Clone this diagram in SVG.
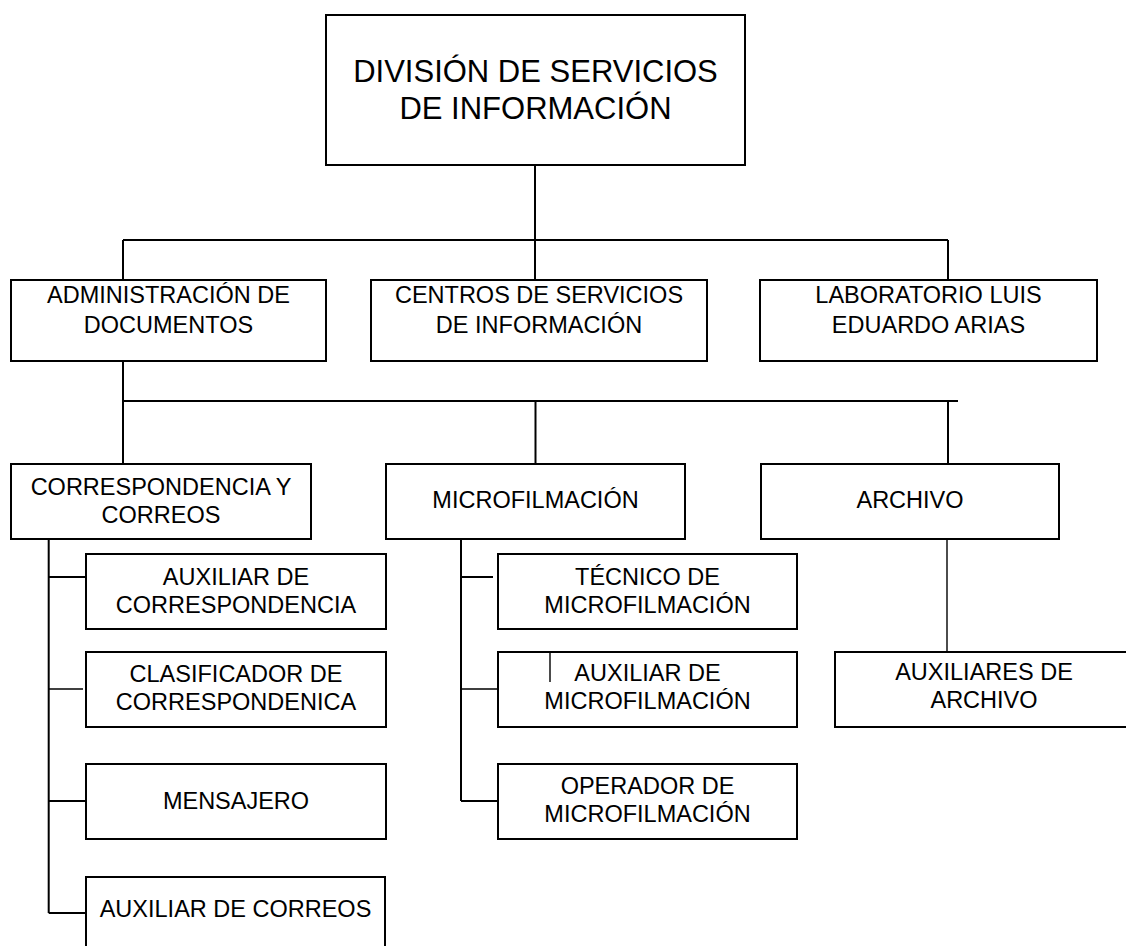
<svg xmlns="http://www.w3.org/2000/svg" width="1126" height="946" viewBox="0 0 1126 946">
<style>
.box{fill:#fff;stroke:#000;stroke-width:2}
.t{font-family:"Liberation Sans",Arial,sans-serif;font-size:23.5px;fill:#000;text-anchor:middle}
.big{font-size:31px}
.c{stroke:#000;stroke-width:2;fill:none}
.thin{stroke-width:1.4}
</style>
<rect width="1126" height="946" fill="#fff"/>
<g id="n-division">
<rect class="box" x="326" y="15" width="419" height="150"/>
<text class="t big" x="535.5" y="82">DIVISIÓN DE SERVICIOS</text>
<text class="t big" x="535.5" y="119">DE INFORMACIÓN</text>
</g>
<g id="n-admin">
<rect class="box" x="11" y="280" width="315" height="81"/>
<text class="t" x="168.5" y="303">ADMINISTRACIÓN DE</text>
<text class="t" x="168.5" y="333">DOCUMENTOS</text>
</g>
<g id="n-centros">
<rect class="box" x="371" y="280" width="336" height="81"/>
<text class="t" x="539" y="303">CENTROS DE SERVICIOS</text>
<text class="t" x="539" y="333">DE INFORMACIÓN</text>
</g>
<g id="n-lab">
<rect class="box" x="760" y="280" width="337" height="81"/>
<text class="t" x="928.5" y="303">LABORATORIO LUIS</text>
<text class="t" x="928.5" y="333">EDUARDO ARIAS</text>
</g>
<g id="n-corr">
<rect class="box" x="11" y="464" width="300" height="75"/>
<text class="t" x="161" y="495">CORRESPONDENCIA Y</text>
<text class="t" x="161" y="523">CORREOS</text>
</g>
<g id="n-micro">
<rect class="box" x="386" y="464" width="299" height="75"/>
<text class="t" x="535.5" y="508">MICROFILMACIÓN</text>
</g>
<g id="n-archivo">
<rect class="box" x="761" y="464" width="298" height="75"/>
<text class="t" x="910" y="508">ARCHIVO</text>
</g>
<g id="n-auxcorr">
<rect class="box" x="86" y="554" width="300" height="75"/>
<text class="t" x="236" y="585">AUXILIAR DE</text>
<text class="t" x="236" y="613">CORRESPONDENCIA</text>
</g>
<g id="n-clasif">
<rect class="box" x="86" y="652" width="300" height="75"/>
<text class="t" x="236" y="682">CLASIFICADOR DE</text>
<text class="t" x="236" y="710">CORRESPONDENICA</text>
</g>
<g id="n-mensajero">
<rect class="box" x="86" y="764" width="300" height="75"/>
<text class="t" x="236" y="809">MENSAJERO</text>
</g>
<g id="n-auxcorreos">
<rect class="box" x="86" y="877" width="299" height="80"/>
<text class="t" x="235.5" y="917">AUXILIAR DE CORREOS</text>
</g>
<g id="n-tecnico">
<rect class="box" x="498" y="554" width="299" height="75"/>
<text class="t" x="647.5" y="585">TÉCNICO DE</text>
<text class="t" x="647.5" y="613">MICROFILMACIÓN</text>
</g>
<g id="n-auxmicro">
<rect class="box" x="498" y="652" width="299" height="75"/>
<text class="t" x="647.5" y="681">AUXILIAR DE</text>
<text class="t" x="647.5" y="709">MICROFILMACIÓN</text>
</g>
<g id="n-operador">
<rect class="box" x="498" y="764" width="299" height="75"/>
<text class="t" x="647.5" y="794">OPERADOR DE</text>
<text class="t" x="647.5" y="822">MICROFILMACIÓN</text>
</g>
<g id="n-auxarchivo">
<rect class="box" x="835" y="652" width="298" height="75"/>
<text class="t" x="984" y="680">AUXILIARES DE</text>
<text class="t" x="984" y="708">ARCHIVO</text>
</g>
<g id="connectors">
<path class="c" d="M535,165V280M123,240H948M123,240V280M948,240V280"/>
<path class="c" d="M123,361V464M123,401H958M948,401V464"/>
<path class="c" stroke-width="2.6" d="M535.5,401V464"/>
<path class="c" d="M48.7,539V913M48.7,577H86M48.7,801H86M48.7,913H86"/>
<path class="c thin" d="M48.7,689H83"/>
<path class="c" d="M461,539V801M461,577H493M461,801H498"/>
<path class="c thin" d="M461,689H498M550,653V682"/>
<path class="c thin" d="M947,539V652"/>
</g>
</svg>
